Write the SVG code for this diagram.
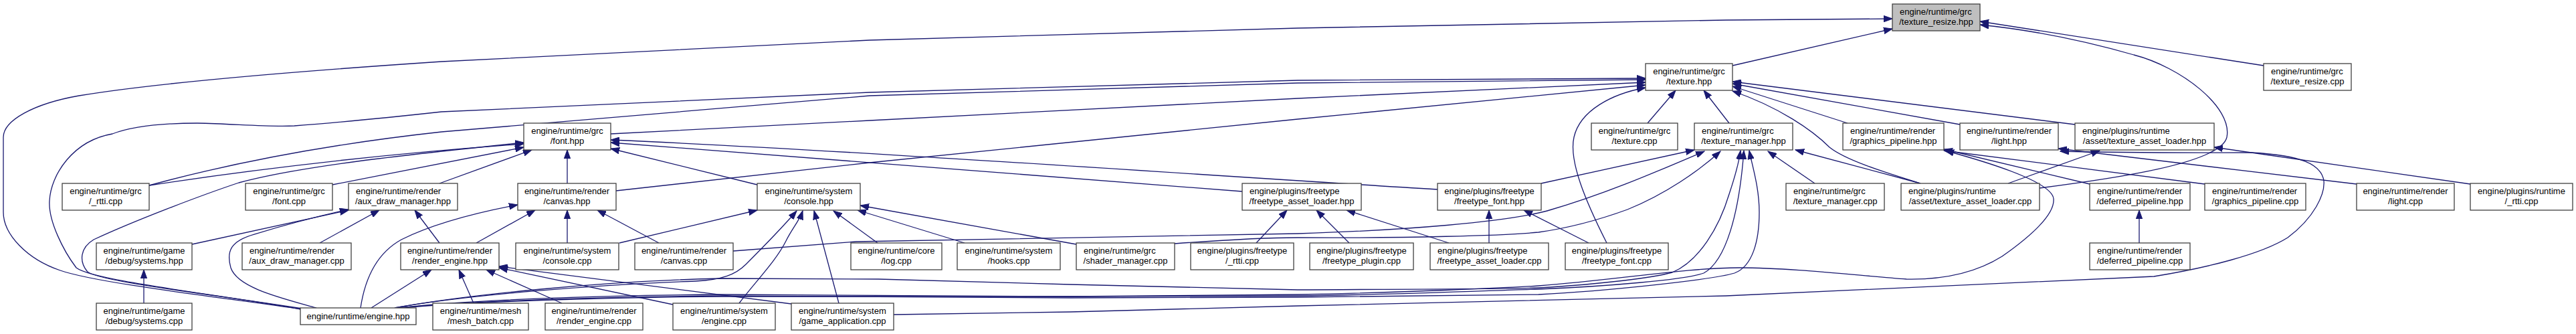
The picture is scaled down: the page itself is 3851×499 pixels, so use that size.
<svg xmlns="http://www.w3.org/2000/svg" width="3851" height="499" viewBox="0 0 3851 499">
<defs>
<style>
.n rect{fill:#fff;stroke:#404040;stroke-width:1.3}
.n.root rect{fill:#bfbfbf}
.n text{font-family:"Liberation Sans",Arial,Helvetica,sans-serif;font-size:13px;fill:#000}
.c{text-anchor:middle}
#edges path{fill:none;stroke:#191970;stroke-width:1.3;marker-end:url(#arr)}
</style>
<marker id="arr" markerUnits="userSpaceOnUse" markerWidth="14" markerHeight="10" viewBox="0 -5 14 10" refX="13" refY="0" orient="auto"><path d="M0,-4.7 L13,0 L0,4.7 z" fill="#191970" stroke="#191970" stroke-width="1"/></marker>
</defs>
<rect width="3851" height="499" fill="#fff"/>
<g id="edges">
<path d="M450,462 C380,450 150,425 90,404 C40,387 5,350 5,317 L5,205 C5,180 50,155 118,143 C220,126 420,108 660,92 L1300,60 L1940,42 L2580,30 L2829,28"/>
<path d="M450,462 C330,440 140,420 114,400 C95,375 72,330 74,300 C76,260 110,210 168,200 C200,188 250,184 295,184 C350,185 400,190 440,188 C480,185 560,178 660,167 L1300,138 L1940,120 L2460,117"/>
<path d="M452,461 C320,440 140,420 130,405 C118,390 120,370 140,358 C200,330 300,292 357,273 C450,248 600,232 783,213"/>
<path d="M473,460 C420,445 355,430 345,400 C338,375 345,360 380,350 C430,335 480,322 521,313"/>
<path d="M287,365 L521,314"/>
<path d="M478,363 L567,314"/>
<path d="M657,363 L620,314"/>
<path d="M555,460 L645,403"/>
<path d="M708,453 L686,403"/>
<path d="M840,453 L727,403"/>
<path d="M1006,455 L746,400"/>
<path d="M1183,454 L746,398"/>
<path d="M712,363 L800,314"/>
<path d="M539,460 C545,420 560,380 600,358 C640,338 700,320 774,306"/>
<path d="M848,363 L848,314"/>
<path d="M985,363 L893,314"/>
<path d="M926,363 L1132,314"/>
<path d="M590,460 C700,440 900,425 1040,420 C1080,418 1100,410 1115,395 C1140,370 1165,345 1191,315"/>
<path d="M1105,453 C1130,420 1160,390 1175,360 C1185,340 1195,330 1200,315"/>
<path d="M1254,453 L1217,315"/>
<path d="M1312,363 L1246,315"/>
<path d="M1442,363 L1282,314"/>
<path d="M1609,365 L1286,307"/>
<path d="M223,277 C400,250 600,228 783,215"/>
<path d="M223,277 C300,256 450,220 660,197 L1300,143 L1940,124 L2460,119"/>
<path d="M497,276 L783,220"/>
<path d="M657,274 L795,224"/>
<path d="M848,274 L848,224"/>
<path d="M1132,276 L913,222"/>
<path d="M1857,286 L913,213"/>
<path d="M2149,283 C1800,262 1300,226 913,209"/>
<path d="M913,200 L1300,180 L1940,147 L2460,123"/>
<path d="M921,285 L1300,243 L1940,178 L2460,127"/>
<path d="M2402,363 C2370,300 2345,240 2353,205 C2362,165 2410,140 2460,131"/>
<path d="M2463,184 L2505,135"/>
<path d="M2585,184 L2547,135"/>
<path d="M2762,184 L2590,129"/>
<path d="M2930,186 L2590,125"/>
<path d="M3102,186 L2590,122"/>
<path d="M2871,274 C2820,258 2760,240 2735,220 C2710,195 2660,160 2590,136"/>
<path d="M2590,98 L2829,43"/>
<path d="M3384,98 L2960,32"/>
<path d="M3049,281 C3150,268 3320,245 3329,205 C3338,160 3260,100 3190,82 C3120,62 3040,45 2960,37"/>
<path d="M1878,363 L1924,314"/>
<path d="M2017,363 L1968,314"/>
<path d="M2166,363 L2013,314"/>
<path d="M2226,363 L2226,314"/>
<path d="M2375,363 L2278,314"/>
<path d="M2304,274 L2533,224"/>
<path d="M1096,375 L1280,361 L1940,349 C2100,344 2250,332 2313,315 C2400,290 2480,255 2548,226"/>
<path d="M1756,364 C1850,357 1900,355 1940,355 C2100,356 2250,352 2300,347 C2350,340 2400,325 2433,313 C2490,290 2540,255 2572,226"/>
<path d="M2713,274 L2643,226"/>
<path d="M2871,274 L2684,224"/>
<path d="M3002,274 L3139,225"/>
<path d="M3198,363 L3198,314"/>
<path d="M3124,275 L2906,223"/>
<path d="M3296,275 L2906,225"/>
<path d="M3523,275 L3077,222"/>
<path d="M3693,275 L3310,220"/>
<path d="M215,453 L215,403"/>
<path d="M590,460 C700,440 900,420 1080,416 L1313,417 L1600,425 L1940,433 C2100,432 2250,432 2300,430 C2400,424 2470,415 2500,407 C2540,390 2570,340 2585,290 C2595,260 2600,240 2602,225"/>
<path d="M595,460 C700,448 900,441 1080,440 L1600,443 L1940,442 C2100,440 2250,433 2300,432 C2400,428 2520,418 2547,408 C2580,390 2600,320 2607,225"/>
<path d="M598,460 C700,450 900,443 1080,442 L1600,445 L1940,444 C2100,443 2250,441 2300,440 C2400,435 2560,418 2593,408 C2620,398 2630,360 2630,317 C2630,280 2620,250 2615,225"/>
<path d="M600,460 C700,451 900,444 1080,443 L1600,443 L1940,440 C2100,437 2250,430 2300,427 C2420,418 2520,400 2600,400 C2680,400 2780,412 2850,417 C2900,418 2950,410 2993,383 C3040,350 3072,320 3070,297 C3068,275 3000,250 2908,225"/>
<path d="M1336,470 L1600,466 L1940,457 L2580,442 L3220,413 C3300,400 3380,380 3420,355 C3460,325 3476,290 3474,270 C3470,245 3440,232 3366,228 C3300,228 3200,229 3080,226"/>
</g>
<g id="n_texture_resize_hpp" class="n root"><rect x="2829" y="6" width="131" height="40"/><text x="2840" y="21.5">engine/runtime/grc</text><text class="c" x="2894.5" y="36.5">/texture_resize.hpp</text></g>
<g id="n_texture_hpp" class="n"><rect x="2460" y="95" width="130" height="40"/><text class="c" x="2525" y="110.5">engine/runtime/grc</text><text class="c" x="2525" y="125.5">/texture.hpp</text></g>
<g id="n_texture_resize_cpp" class="n"><rect x="3384" y="95" width="131" height="40"/><text x="3395" y="110.5">engine/runtime/grc</text><text class="c" x="3449.5" y="125.5">/texture_resize.cpp</text></g>
<g id="n_font_hpp" class="n"><rect x="783" y="184" width="130" height="40"/><text class="c" x="848" y="199.5">engine/runtime/grc</text><text class="c" x="848" y="214.5">/font.hpp</text></g>
<g id="n_texture_cpp" class="n"><rect x="2379" y="184" width="129" height="40"/><text class="c" x="2443.5" y="199.5">engine/runtime/grc</text><text class="c" x="2443.5" y="214.5">/texture.cpp</text></g>
<g id="n_texture_manager_hpp" class="n"><rect x="2533" y="184" width="147" height="40"/><text x="2544" y="199.5">engine/runtime/grc</text><text class="c" x="2606.5" y="214.5">/texture_manager.hpp</text></g>
<g id="n_graphics_pipeline_hpp" class="n"><rect x="2755" y="184" width="151" height="40"/><text x="2766" y="199.5">engine/runtime/render</text><text class="c" x="2830.5" y="214.5">/graphics_pipeline.hpp</text></g>
<g id="n_light_hpp" class="n"><rect x="2930" y="184" width="147" height="40"/><text class="c" x="3003.5" y="199.5">engine/runtime/render</text><text class="c" x="3003.5" y="214.5">/light.hpp</text></g>
<g id="n_texture_asset_loader_hpp" class="n"><rect x="3102" y="184" width="208" height="40"/><text x="3113" y="199.5">engine/plugins/runtime</text><text class="c" x="3206" y="214.5">/asset/texture_asset_loader.hpp</text></g>
<g id="n_grc_rtti_cpp" class="n"><rect x="93" y="274" width="130" height="40"/><text class="c" x="158" y="289.5">engine/runtime/grc</text><text class="c" x="158" y="304.5">/_rtti.cpp</text></g>
<g id="n_font_cpp" class="n"><rect x="367" y="274" width="130" height="40"/><text class="c" x="432" y="289.5">engine/runtime/grc</text><text class="c" x="432" y="304.5">/font.cpp</text></g>
<g id="n_aux_draw_manager_hpp" class="n"><rect x="521" y="274" width="163" height="40"/><text x="532" y="289.5">engine/runtime/render</text><text class="c" x="602.5" y="304.5">/aux_draw_manager.hpp</text></g>
<g id="n_canvas_hpp" class="n"><rect x="774" y="274" width="147" height="40"/><text class="c" x="847.5" y="289.5">engine/runtime/render</text><text class="c" x="847.5" y="304.5">/canvas.hpp</text></g>
<g id="n_console_hpp" class="n"><rect x="1132" y="274" width="154" height="40"/><text class="c" x="1209" y="289.5">engine/runtime/system</text><text class="c" x="1209" y="304.5">/console.hpp</text></g>
<g id="n_freetype_asset_loader_hpp" class="n"><rect x="1857" y="274" width="178" height="40"/><text x="1868" y="289.5">engine/plugins/freetype</text><text class="c" x="1946" y="304.5">/freetype_asset_loader.hpp</text></g>
<g id="n_freetype_font_hpp" class="n"><rect x="2149" y="274" width="155" height="40"/><text class="c" x="2226.5" y="289.5">engine/plugins/freetype</text><text class="c" x="2226.5" y="304.5">/freetype_font.hpp</text></g>
<g id="n_texture_manager_cpp" class="n"><rect x="2670" y="274" width="147" height="40"/><text x="2681" y="289.5">engine/runtime/grc</text><text class="c" x="2743.5" y="304.5">/texture_manager.cpp</text></g>
<g id="n_texture_asset_loader_cpp" class="n"><rect x="2842" y="274" width="207" height="40"/><text x="2853" y="289.5">engine/plugins/runtime</text><text class="c" x="2945.5" y="304.5">/asset/texture_asset_loader.cpp</text></g>
<g id="n_deferred_pipeline_hpp" class="n"><rect x="3124" y="274" width="150" height="40"/><text x="3135" y="289.5">engine/runtime/render</text><text class="c" x="3199" y="304.5">/deferred_pipeline.hpp</text></g>
<g id="n_graphics_pipeline_cpp" class="n"><rect x="3296" y="274" width="151" height="40"/><text x="3307" y="289.5">engine/runtime/render</text><text class="c" x="3371.5" y="304.5">/graphics_pipeline.cpp</text></g>
<g id="n_light_cpp" class="n"><rect x="3523" y="274" width="146" height="40"/><text class="c" x="3596" y="289.5">engine/runtime/render</text><text class="c" x="3596" y="304.5">/light.cpp</text></g>
<g id="n_plugins_runtime_rtti_cpp" class="n"><rect x="3693" y="274" width="153" height="40"/><text class="c" x="3769.5" y="289.5">engine/plugins/runtime</text><text class="c" x="3769.5" y="304.5">/_rtti.cpp</text></g>
<g id="n_debug_systems_hpp" class="n"><rect x="144" y="363" width="143" height="40"/><text class="c" x="215.5" y="378.5">engine/runtime/game</text><text class="c" x="215.5" y="393.5">/debug/systems.hpp</text></g>
<g id="n_aux_draw_manager_cpp" class="n"><rect x="362" y="363" width="163" height="40"/><text x="373" y="378.5">engine/runtime/render</text><text class="c" x="443.5" y="393.5">/aux_draw_manager.cpp</text></g>
<g id="n_render_engine_hpp" class="n"><rect x="599" y="363" width="147" height="40"/><text class="c" x="672.5" y="378.5">engine/runtime/render</text><text class="c" x="672.5" y="393.5">/render_engine.hpp</text></g>
<g id="n_console_cpp" class="n"><rect x="771" y="363" width="154" height="40"/><text class="c" x="848" y="378.5">engine/runtime/system</text><text class="c" x="848" y="393.5">/console.cpp</text></g>
<g id="n_canvas_cpp" class="n"><rect x="949" y="363" width="147" height="40"/><text class="c" x="1022.5" y="378.5">engine/runtime/render</text><text class="c" x="1022.5" y="393.5">/canvas.cpp</text></g>
<g id="n_log_cpp" class="n"><rect x="1272" y="363" width="136" height="40"/><text class="c" x="1340" y="378.5">engine/runtime/core</text><text class="c" x="1340" y="393.5">/log.cpp</text></g>
<g id="n_hooks_cpp" class="n"><rect x="1431" y="363" width="154" height="40"/><text class="c" x="1508" y="378.5">engine/runtime/system</text><text class="c" x="1508" y="393.5">/hooks.cpp</text></g>
<g id="n_shader_manager_cpp" class="n"><rect x="1609" y="363" width="147" height="40"/><text x="1620" y="378.5">engine/runtime/grc</text><text class="c" x="1682.5" y="393.5">/shader_manager.cpp</text></g>
<g id="n_freetype_rtti_cpp" class="n"><rect x="1780" y="363" width="154" height="40"/><text class="c" x="1857" y="378.5">engine/plugins/freetype</text><text class="c" x="1857" y="393.5">/_rtti.cpp</text></g>
<g id="n_freetype_plugin_cpp" class="n"><rect x="1958" y="363" width="155" height="40"/><text class="c" x="2035.5" y="378.5">engine/plugins/freetype</text><text class="c" x="2035.5" y="393.5">/freetype_plugin.cpp</text></g>
<g id="n_freetype_asset_loader_cpp" class="n"><rect x="2138" y="363" width="177" height="40"/><text x="2149" y="378.5">engine/plugins/freetype</text><text class="c" x="2226.5" y="393.5">/freetype_asset_loader.cpp</text></g>
<g id="n_freetype_font_cpp" class="n"><rect x="2340" y="363" width="154" height="40"/><text class="c" x="2417" y="378.5">engine/plugins/freetype</text><text class="c" x="2417" y="393.5">/freetype_font.cpp</text></g>
<g id="n_deferred_pipeline_cpp" class="n"><rect x="3124" y="363" width="150" height="40"/><text x="3135" y="378.5">engine/runtime/render</text><text class="c" x="3199" y="393.5">/deferred_pipeline.cpp</text></g>
<g id="n_debug_systems_cpp" class="n"><rect x="144" y="453" width="143" height="40"/><text class="c" x="215.5" y="468.5">engine/runtime/game</text><text class="c" x="215.5" y="483.5">/debug/systems.cpp</text></g>
<g id="n_engine_hpp" class="n"><rect x="449" y="460" width="173" height="25"/><text class="c" x="535.5" y="477">engine/runtime/engine.hpp</text></g>
<g id="n_mesh_batch_cpp" class="n"><rect x="647" y="453" width="143" height="40"/><text class="c" x="718.5" y="468.5">engine/runtime/mesh</text><text class="c" x="718.5" y="483.5">/mesh_batch.cpp</text></g>
<g id="n_render_engine_cpp" class="n"><rect x="815" y="453" width="146" height="40"/><text class="c" x="888" y="468.5">engine/runtime/render</text><text class="c" x="888" y="483.5">/render_engine.cpp</text></g>
<g id="n_system_engine_cpp" class="n"><rect x="1006" y="453" width="153" height="40"/><text class="c" x="1082.5" y="468.5">engine/runtime/system</text><text class="c" x="1082.5" y="483.5">/engine.cpp</text></g>
<g id="n_game_application_cpp" class="n"><rect x="1183" y="453" width="153" height="40"/><text x="1194" y="468.5">engine/runtime/system</text><text class="c" x="1259.5" y="483.5">/game_application.cpp</text></g>
</svg>
